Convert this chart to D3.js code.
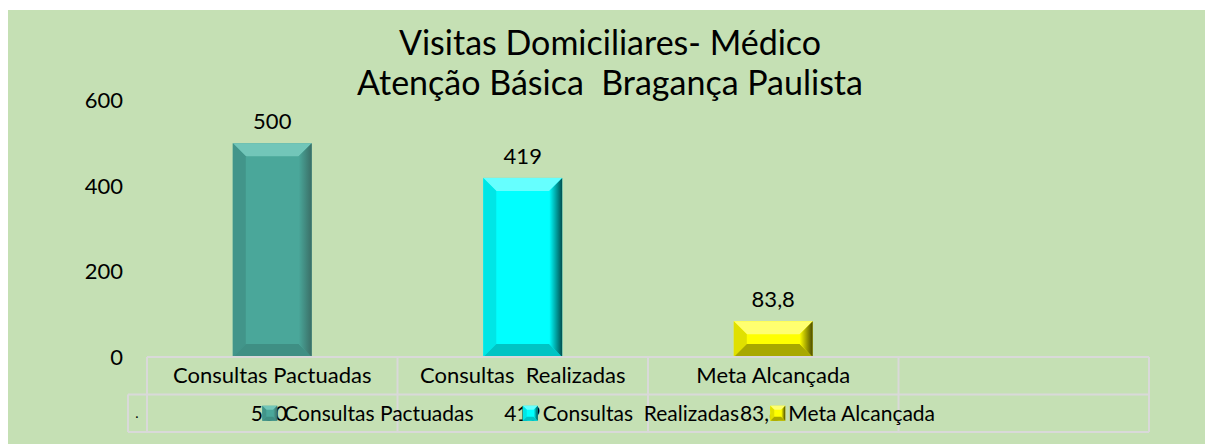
<!DOCTYPE html>
<html>
<head>
<meta charset="utf-8">
<script src="https://cdn.jsdelivr.net/npm/d3@7"></script>
<style>
	body { margin: 0; background: #ffffff; }
	text { font-family: Lato, "Open Sans", sans-serif; fill: #000; white-space: pre; }
</style>
</head>
<body>
<script>
var width = 1205,
		height = 444;

// chart data
var titleLines = ["Visitas Domiciliares- Médico", "Atenção Básica  Bragança Paulista"];
var categories = ["Consultas Pactuadas", "Consultas  Realizadas", "Meta Alcançada", ""];
var seriesNames = ["Consultas Pactuadas", "Consultas  Realizadas", "Meta Alcançada"];
var values = [500, 419, 83.8];
var yTicks = [0, 200, 400, 600];

// bar colours: base, top bevel, left, right, bottom
var barColors = [
	{ base: "#4aa79a", top: "#72c6b9", left: "#42958a", right: "#3a6e66", bottom: "#3f8f84" },
	{ base: "#00ffff", top: "#66ffff", left: "#00e6e6", right: "#004f4f", bottom: "#00c4c4" },
	{ base: "#ffff00", top: "#ffff70", left: "#e0e000", right: "#4a4a00", bottom: "#a8a800" }
];

var ptBR = d3.formatLocale({ decimal: ",", thousands: ".", grouping: [3], currency: ["R$", ""] });
var fmt = ptBR.format(".4~g");

var plotLeft = 147,
		plotRight = 1149,
		plotTop = 100.5,
		plotBottom = 357,
		rowH = 37.5,
		lineColor = "#d9d9d9";

var svg = d3.select("body")
	.append("svg")
	.attr("width", width)
	.attr("height", height);

svg.append("rect")
	.attr("x", 8)
	.attr("y", 10)
	.attr("width", width - 8)
	.attr("height", height - 10)
	.style("fill", "#c5e0b4");

var x = d3.scaleBand()
	.domain(categories)
	.range([plotLeft, plotRight])
	.padding(0);

var y = d3.scaleLinear()
	.domain([0, 600])
	.range([plotBottom, plotTop]);

/************* TITLE *************/
svg.selectAll(".title")
	.data(titleLines)
	.enter()
	.append("text")
	.attr("class", "title")
	.attr("x", 610)
	.attr("y", function (d, i) { return 55 + i * 40; })
	.attr("text-anchor", "middle")
	.style("font-size", "34px")
	.text(function (d) { return d; });

/************* Y AXIS LABELS *************/
svg.selectAll(".ytick")
	.data(yTicks)
	.enter()
	.append("text")
	.attr("class", "ytick")
	.attr("x", 123)
	.attr("y", function (d) { return y(d); })
	.attr("dy", "0.35em")
	.attr("text-anchor", "end")
	.style("font-size", "22px")
	.text(function (d) { return d; });

/************* BARS *************/
var barW = x.bandwidth() * 0.315,
		bevel = 13;

function bevelBar(g, x0, y0, w, h, c, b) {
	b = Math.min(b, h / 2, w / 2);
	g.append("rect")
		.attr("x", x0).attr("y", y0)
		.attr("width", w).attr("height", h)
		.style("fill", c.base);
	var x1 = x0 + w, y1 = y0 + h;
	var faces = [
		{ fill: c.top, pts: [[x0, y0], [x1, y0], [x1 - b, y0 + b], [x0 + b, y0 + b]] },
		{ fill: c.left, pts: [[x0, y0], [x0 + b, y0 + b], [x0 + b, y1 - b], [x0, y1]] },
		{ fill: c.bottom, pts: [[x0, y1], [x0 + b, y1 - b], [x1 - b, y1 - b], [x1, y1]] },
		{ fill: "url(#grad" + c.id + ")", pts: [[x1, y0], [x1, y1], [x1 - b, y1 - b], [x1 - b, y0 + b]] }
	];
	g.selectAll("polygon.f")
		.data(faces)
		.enter()
		.append("polygon")
		.attr("points", function (d) { return d.pts.join(" "); })
		.style("fill", function (d) { return d.fill; });
}

var defs = svg.append("defs");
barColors.forEach(function (c, i) {
	c.id = i;
	var grad = defs.append("linearGradient")
		.attr("id", "grad" + i)
		.attr("x1", "0").attr("x2", "1").attr("y1", "0").attr("y2", "0");
	grad.append("stop").attr("offset", "0").attr("stop-color", c.base);
	grad.append("stop").attr("offset", "1").attr("stop-color", c.right);
});

var bars = svg.selectAll(".bar")
	.data(values)
	.enter()
	.append("g")
	.attr("class", "bar");

bars.each(function (d, i) {
	var cx = x(categories[i]) + x.bandwidth() / 2;
	bevelBar(d3.select(this), cx - barW / 2, y(d), barW, y(0) - y(d), barColors[i], bevel);
});

svg.selectAll(".vlabel")
	.data(values)
	.enter()
	.append("text")
	.attr("class", "vlabel")
	.attr("x", function (d, i) { return x(categories[i]) + x.bandwidth() / 2; })
	.attr("y", function (d) { return y(d) - 14; })
	.attr("text-anchor", "middle")
	.style("font-size", "22px")
	.text(function (d) { return fmt(d); });

/************* DATA TABLE *************/
var table = svg.append("g")
	.style("stroke", lineColor)
	.style("stroke-width", 2)
	.style("fill", "none");

// horizontal lines
table.append("line")
	.attr("x1", plotLeft).attr("x2", plotRight)
	.attr("y1", plotBottom).attr("y2", plotBottom);
table.append("line")
	.attr("x1", 128).attr("x2", plotRight)
	.attr("y1", plotBottom + rowH).attr("y2", plotBottom + rowH);
table.append("line")
	.attr("x1", 128).attr("x2", plotRight)
	.attr("y1", plotBottom + 2 * rowH).attr("y2", plotBottom + 2 * rowH);
table.append("line")
	.attr("x1", 128).attr("x2", 128)
	.attr("y1", plotBottom + rowH).attr("y2", plotBottom + 2 * rowH);

// column separators
table.selectAll(".col")
	.data(categories.concat(["end"]))
	.enter()
	.append("line")
	.attr("x1", function (d, i) { return i < categories.length ? x(d) : plotRight; })
	.attr("x2", function (d, i) { return i < categories.length ? x(d) : plotRight; })
	.attr("y1", plotBottom)
	.attr("y2", plotBottom + 2 * rowH);

svg.selectAll(".cat")
	.data(categories)
	.enter()
	.append("text")
	.attr("class", "cat")
	.attr("x", function (d) { return x(d) + x.bandwidth() / 2; })
	.attr("y", plotBottom + rowH / 2)
	.attr("dy", "0.35em")
	.attr("text-anchor", "middle")
	.style("font-size", "22px")
	.text(function (d) { return d; });

// legend row
svg.append("text")
	.attr("x", 137)
	.attr("y", plotBottom + rowH * 1.5)
	.attr("dy", "0.35em")
	.attr("text-anchor", "middle")
	.style("font-size", "14px")
	.text(".");

// key offset from band centre, value end and name start relative to key
var keyOffset = [-10, 0, -3],
		valueEnd = [25, 18, 11],
		nameStart = [22, 20, 18],
		keySize = 15;

var legend = svg.selectAll(".leg")
	.data(seriesNames)
	.enter()
	.append("g")
	.attr("class", "leg");

legend.each(function (d, i) {
	var g = d3.select(this),
			kx = x(categories[i]) + x.bandwidth() / 2 + keyOffset[i],
			ky = plotBottom + rowH * 1.5 - keySize / 2;
	g.append("text")
		.attr("x", kx + valueEnd[i])
		.attr("y", plotBottom + rowH * 1.5)
		.attr("dy", "0.35em")
		.attr("text-anchor", "end")
		.style("font-size", "21px")
		.text(fmt(values[i]));
	bevelBar(g, kx, ky, keySize, keySize, barColors[i], 4);
	g.append("text")
		.attr("x", kx + nameStart[i])
		.attr("y", plotBottom + rowH * 1.5)
		.attr("dy", "0.35em")
		.style("font-size", "21px")
		.text(d);
});
</script>
</body>
</html>
